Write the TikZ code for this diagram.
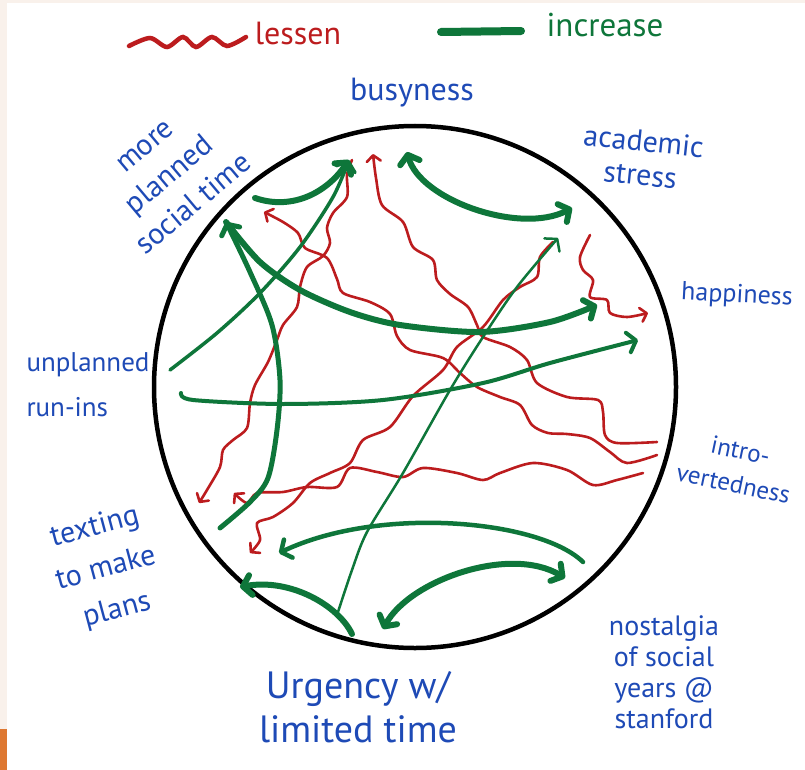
\documentclass[tikz,border=0pt]{standalone}
\usepackage{fontspec}
\setmainfont{PT Sans}
\usetikzlibrary{arrows.meta}
\definecolor{redpen}{RGB}{188,28,30}
\definecolor{greenpen}{RGB}{14,118,58}
\definecolor{bluepen}{RGB}{30,74,182}
\definecolor{paper}{RGB}{249,241,235}
\definecolor{tab}{RGB}{222,120,50}
\tikzset{
  lessen/.style={redpen, line width=2.6pt, line cap=round, line join=round,
    >={Straight Barb[round,length=6pt,width=14pt]}, ->},
  increase/.style={greenpen, line width=6pt, line cap=round, line join=round,
    >={Straight Barb[round,length=8pt,width=20pt]}, ->},
  bothways/.style={increase, <->},
  idea/.style={text=bluepen, align=center, inner sep=0pt, font=\fontsize{28}{31}\selectfont},
}
\begin{document}
\begin{tikzpicture}[x=1pt, y=-1pt]
        % Fondo
        \fill[paper] (0,0) rectangle (805,770);
        \fill[white] (7,3) rectangle (805,770);
        \fill[tab] (0,729) rectangle (7,770);
        \useasboundingbox (0,0) rectangle (805,770);
        % Cerchio
        \node[draw, circle, line width=4.5pt, minimum size=522pt, inner sep=0pt] (ring) at (415,387) {};
        % Legenda
        \draw[redpen, line width=4.5pt, line cap=round] plot[smooth] coordinates
            {(129,46) (150,38) (167,47) (183,37) (196,47) (212,37) (227,46) (246,37)};
        \node[text=redpen, font=\fontsize{32}{34}\selectfont] (lessenkey) at (298,33) {lessen};
        \draw[greenpen, line width=8pt, line cap=round] (441,32) -- (521,31);
        \node[text=greenpen, font=\fontsize{33}{35}\selectfont] (increasekey) at (605,25) {increase};
        % Etichette
        \node[idea, font=\fontsize{32}{34}\selectfont] (busy) at (412,93) {busyness};
        \node[idea, rotate=40, font=\fontsize{30}{38}\selectfont] (planned) at (170,176) {more\\planned\\social time};
        \node[idea, rotate=-6, font=\fontsize{30}{34}\selectfont] (stress) at (642,158) {academic\\stress};
        \node[idea, rotate=-3, font=\fontsize{26}{30}\selectfont] (happy) at (737,296) {happiness};
        \node[idea, rotate=-12, font=\fontsize{25}{34}\selectfont] (intro) at (737,467) {intro-\\vertedness};
        \node[idea, align=left, font=\fontsize{27}{45}\selectfont] (runins) at (88,385) {unplanned\\run-ins};
        \node[idea, rotate=15, font=\fontsize{30}{43}\selectfont] (texting) at (106,569) {texting\\to make\\plans};
        \node[idea, font=\fontsize{38}{44}\selectfont] (urgency) at (358,707) {Urgency w/\\limited time};
        \node[idea, font=\fontsize{28}{31}\selectfont] (nostalgia) at (664,672) {nostalgia\\of social\\years @\\stanford};
        % Estremi
        \coordinate (busyL) at (349,160);
        \coordinate (busyM) at (373,154);
        \coordinate (busyR) at (407,152);
        \coordinate (busyRed) at (352,160);
        \coordinate (acadG) at (572,208);
        \coordinate (acadT) at (558,238);
        \coordinate (acadR) at (553,242);
        \coordinate (acadR2) at (590,235);
        \coordinate (happyR) at (648,313);
        \coordinate (happyG) at (597,305);
        \coordinate (happyG2) at (638,340);
        \coordinate (introA) at (657,442);
        \coordinate (introB) at (657,455);
        \coordinate (introC) at (643,473);
        \coordinate (moreG) at (226,222);
        \coordinate (moreR) at (264,212);
        \coordinate (moreS) at (255,198);
        \coordinate (runA) at (170,370);
        \coordinate (runB) at (181,393);
        \coordinate (textA) at (199,503);
        \coordinate (textB) at (234,493);
        \coordinate (textC) at (220,528);
        \coordinate (textD) at (250,553);
        \coordinate (textE) at (279,553);
        \coordinate (textF) at (240,587);
        \coordinate (urgA) at (352,634);
        \coordinate (urgB) at (338,612);
        \coordinate (urgC) at (383,629);
        \coordinate (nostA) at (565,578);
        \coordinate (nostB) at (583,562);
        % Frecce rosse (diminuisce)
        \draw[lessen] plot[smooth] coordinates {(busyRed) (347,175) (347,197) (333,213) (327,228) (330,243)
            (323,256) (307,267) (300,287) (297,307) (283,325) (277,340) (268,362) (255,385) (250,403)
            (247,428) (233,440) (223,450) (220,467) (207,490) (textA)};
        \draw[lessen] plot[smooth] coordinates {(introA) (617,443) (605,435) (603,412) (598,400) (567,397)
            (537,383) (527,360) (510,347) (483,337) (477,325) (468,307) (450,294) (437,280) (433,260)
            (413,247) (403,222) (382,205) (376,178) (busyM)};
        \draw[lessen] plot[smooth] coordinates {(introB) (627,463) (610,452) (590,438) (567,434) (548,433)
            (532,425) (520,405) (500,397) (477,387) (460,373) (443,358) (410,350) (397,336) (390,314)
            (370,302) (343,293) (337,279) (327,258) (305,248) (298,233) (283,222) (moreR)};
        \draw[lessen] plot[smooth] coordinates {(introC) (617,480) (593,485) (567,470) (533,463) (500,473)
            (483,480) (457,473) (423,468) (403,477) (377,472) (350,468) (337,487) (307,487) (283,492)
            (257,493) (247,503) (textB)};
        \draw[lessen] plot[smooth] coordinates {(acadR2) (580,257) (583,270) (593,280) (590,297) (607,300)
            (610,313) (627,317) (happyR)};
        \draw[lessen] plot[smooth] coordinates {(acadR) (540,257) (537,277) (520,287) (503,300) (483,327)
            (457,347) (443,370) (413,396) (390,427) (363,440) (350,463) (330,473) (310,483) (293,503)
            (273,517) (257,523) (260,540) (textD)};
        % Frecce verdi (aumenta)
        \draw[bothways] (busyR) .. controls (420,200) and (520,235) .. (acadG);
        \draw[increase] plot[smooth] coordinates {(moreG) (260,262) (300,290) (350,312) (400,325)
            (480,332) (550,322) (happyG)};
        \draw[increase, line width=5pt] plot[smooth] coordinates {(textC) (250,502) (268,478) (277,430)
            (280,380) (272,325) (250,272) (moreG)};
        \draw[increase] (moreS) .. controls (290,210) and (325,195) .. (busyL);
        \draw[increase, line width=3.5pt] plot[smooth] coordinates {(runA) (217,333) (260,293) (300,247)
            (333,197) (busyL)};
        \draw[increase, line width=4pt] plot[smooth] coordinates {(runB) (193,400) (283,404) (383,400)
            (483,383) (550,363) (happyG2)};
        \draw[increase, line width=2.5pt] plot[smooth] coordinates {(urgB) (352,570) (367,532) (403,473)
            (450,390) (483,337) (517,287) (acadT)};
        \draw[increase] (urgA) .. controls (338,605) and (290,578) .. (textF);
        \draw[bothways] (urgC) .. controls (410,580) and (510,545) .. (nostA);
        \draw[increase, line width=4.5pt] (nostB) .. controls (540,520) and (380,505) .. (textE);
\end{tikzpicture}
\end{document}
